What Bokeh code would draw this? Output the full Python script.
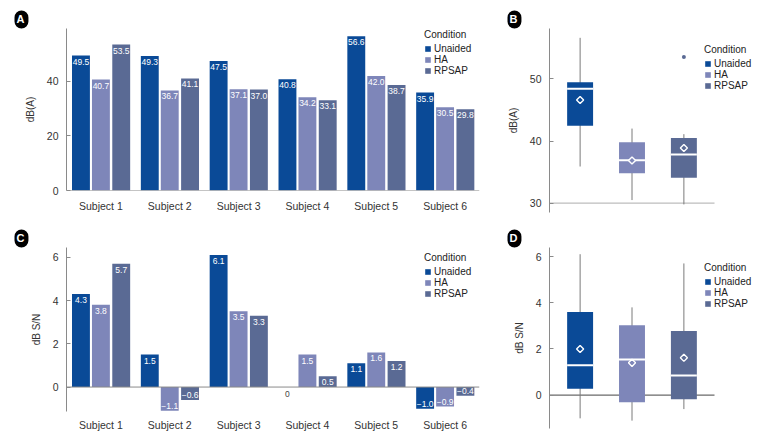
import numpy as np
from bokeh.plotting import figure
from bokeh.models import (ColumnDataSource, FactorRange, Range1d, Span, Legend,
                          LegendItem, Title, FixedTicker)
from bokeh.layouts import column, row
from bokeh.transform import dodge
from bokeh.core.properties import value
from bokeh.embed import file_html
from bokeh.resources import INLINE

# ---------------- data ----------------
subjects = ["Subject 1", "Subject 2", "Subject 3", "Subject 4", "Subject 5", "Subject 6"]
conditions = ["Unaided", "HA", "RPSAP"]
colors = ["#0a4a97", "#7e86b9", "#5a6a94"]

dba_unaided = [49.5, 49.3, 47.5, 40.8, 56.6, 35.9]
dba_ha = [40.7, 36.7, 37.1, 34.2, 42.0, 30.5]
dba_rpsap = [53.5, 41.1, 37.0, 33.1, 38.7, 29.8]

snr_unaided = [4.3, 1.5, 6.1, 0.0, 1.1, -1.0]
snr_ha = [3.8, -1.1, 3.5, 1.5, 1.6, -0.9]
snr_rpsap = [5.7, -0.6, 3.3, 0.5, 1.2, -0.4]

dba_bar_ticks = [0, 20, 40]
dba_box_ticks = [30, 40, 50]
snr_ticks = [0, 2, 4, 6]

FONT = "Liberation Sans"
TXT = "#333333"
AXC = "#8a8a8a"

BOX_X0, BOX_X1 = 0.41, 3.59          # visible extent of the box-plot baseline
BOX_PX_PER_UNIT = 165 / (BOX_X1 - BOX_X0)


def fmt(v):
    if v == 0:
        return "0"
    return f"{v:.1f}".replace("-", "\u2212")


def base_style(p, ylabel, ticks):
    p.outline_line_color = None
    p.xgrid.visible = False
    p.ygrid.visible = False
    p.yaxis.ticker = FixedTicker(ticks=ticks)
    p.yaxis.axis_label = ylabel
    p.yaxis.axis_label_text_font = FONT
    p.yaxis.axis_label_text_font_style = "normal"
    p.yaxis.axis_label_text_font_size = "10px"
    p.yaxis.axis_label_text_color = TXT
    p.yaxis.axis_label_standoff = 8
    p.yaxis.major_label_text_font = FONT
    p.yaxis.major_label_text_font_size = "10.5px"
    p.yaxis.major_label_text_color = TXT
    p.yaxis.major_label_standoff = 8
    p.yaxis.axis_line_color = AXC
    p.yaxis.major_tick_line_color = AXC
    p.yaxis.major_tick_in = 4
    p.yaxis.major_tick_out = 0
    p.yaxis.minor_tick_line_color = None


def make_legend(items, x, y):
    return Legend(items=items, location=(x, y), title="Condition",
                  glyph_width=7, glyph_height=7, label_standoff=3,
                  label_text_font=FONT, label_text_font_size="10px",
                  label_text_color="#222222", label_height=11, spacing=0,
                  padding=0, margin=0, border_line_color=None,
                  background_fill_alpha=0, title_text_font=FONT,
                  title_text_font_size="10px", title_text_font_style="normal",
                  title_text_color="#222222", title_standoff=3)


def badge(p, letter, off):
    p.add_layout(Title(text=letter, align="left", offset=off, standoff=0,
                       text_color="white", text_font=FONT, text_font_style="bold",
                       text_font_size="11px", background_fill_color="black",
                       padding=(2, 4, 2, 4), border_radius=9), "above")


def bar_panel(series, ylabel, yr, ticks, frame_h, top_b, bot_b, standoff, leg_y, letter):
    p = figure(x_range=FactorRange(factors=subjects), y_range=Range1d(*yr),
               frame_width=413, frame_height=frame_h, min_border_left=66,
               min_border_right=21, min_border_top=top_b, min_border_bottom=bot_b,
               output_backend="svg", toolbar_location=None, tools="")
    base_style(p, ylabel, ticks)
    p.xaxis.axis_line_color = None
    p.xaxis.major_tick_line_color = None
    p.xaxis.major_tick_out = 0
    p.xaxis.major_tick_in = 0
    p.xaxis.minor_tick_line_color = None
    p.xaxis.major_label_text_font = FONT
    p.xaxis.major_label_text_font_size = "10.5px"
    p.xaxis.major_label_text_color = TXT
    p.xaxis.major_label_standoff = standoff
    p.add_layout(Span(location=0, dimension="width", line_color=AXC, line_width=1))
    offsets = [-0.29, 0.0, 0.295]
    items = []
    for cond, vals, col, off in zip(conditions, series, colors, offsets):
        src = ColumnDataSource(dict(subject=subjects, v=vals))
        r = p.vbar(x=dodge("subject", off, range=p.x_range), top="v", bottom=0,
                   width=0.26, source=src, fill_color=col, line_color=None)
        items.append(LegendItem(label=cond, renderers=[r]))
        groups = [(lambda v: v > 0, "top", 3, "white"),
                  (lambda v: v < 0, "bottom", -2, "white"),
                  (lambda v: v == 0, "top", 4, "#444444")]
        for sel, bl, yoff, tcol in groups:
            subs = [s for s, v in zip(subjects, vals) if sel(v)]
            vs = [v for v in vals if sel(v)]
            if not subs:
                continue
            tsrc = ColumnDataSource(dict(subject=subs, v=vs, txt=[fmt(v) for v in vs]))
            p.text(x=dodge("subject", off, range=p.x_range), y="v", text="txt",
                   source=tsrc, text_align="center", text_baseline=bl,
                   y_offset=yoff, text_color=tcol, text_font=value(FONT),
                   text_font_size="8.5px")
    p.add_layout(make_legend(items, 358, leg_y))
    badge(p, letter, -52)
    return p


def box_panel(series, ylabel, yr, ticks, frame_h, top_b, bot_b, hline, hcol, leg_y, letter):
    fw = 205
    p = figure(x_range=Range1d(BOX_X0, BOX_X0 + fw / BOX_PX_PER_UNIT), y_range=Range1d(*yr),
               frame_width=fw, frame_height=frame_h, min_border_left=49,
               min_border_right=6, min_border_top=top_b, min_border_bottom=bot_b,
               x_axis_location=None, output_backend="svg", toolbar_location=None, tools="")
    base_style(p, ylabel, ticks)
    p.segment(x0=[BOX_X0], y0=[hline], x1=[BOX_X1], y1=[hline], line_color=hcol, line_width=1.2)
    items = []
    for i, (cond, vals, col) in enumerate(zip(conditions, series, colors)):
        pos = i + 1
        a = np.array(vals)
        q1, med, q3 = np.percentile(a, [25, 50, 75])
        iqr = q3 - q1
        inside = a[(a >= q1 - 1.5 * iqr) & (a <= q3 + 1.5 * iqr)]
        outl = a[(a < q1 - 1.5 * iqr) | (a > q3 + 1.5 * iqr)]
        lo, hi = inside.min(), inside.max()
        p.segment(x0=[pos], y0=[lo], x1=[pos], y1=[hi], line_color="#7a7a7a", line_width=1)
        r = p.vbar(x=[pos], top=[q3], bottom=[q1], width=0.5, fill_color=col, line_color=None)
        items.append(LegendItem(label=cond, renderers=[r]))
        p.rect(x=[pos], y=[med], width=0.5, height=2, height_units="screen",
               fill_color="white", line_color=None)
        p.scatter(x=[pos], y=[a.mean()], marker="square", angle=np.pi / 4, size=5,
                  fill_color=col, line_color="white", line_width=1.4)
        if len(outl):
            p.scatter(x=[pos] * len(outl), y=list(outl), marker="circle", size=4,
                      fill_color=col, line_color=None)
    p.add_layout(make_legend(items, 155, leg_y))
    badge(p, letter, -42)
    return p


pA = bar_panel([dba_unaided, dba_ha, dba_rpsap], "dB(A)", (0, 59.4), dba_bar_ticks,
               162, 28, 27, 9, 114, "A")
pB = box_panel([dba_unaided, dba_ha, dba_rpsap], "dB(A)", (28.5, 58.1), dba_box_ticks,
               184, 28, 5, 30, "#bdbdbd", 121, "B")
pC = bar_panel([snr_unaided, snr_ha, snr_rpsap], "dB S/N", (-1.13, 6.45), snr_ticks,
               164, 25, 29, 7, 112, "C")
pD = box_panel([snr_unaided, snr_ha, snr_rpsap], "dB S/N", (-1.44, 6.39), snr_ticks,
               181, 30, 10, 0, "#6a6a6a", 119, "D")

layout = column(row(pA, pB), row(pC, pD))
open("out.html", "w").write(file_html(layout, INLINE))
